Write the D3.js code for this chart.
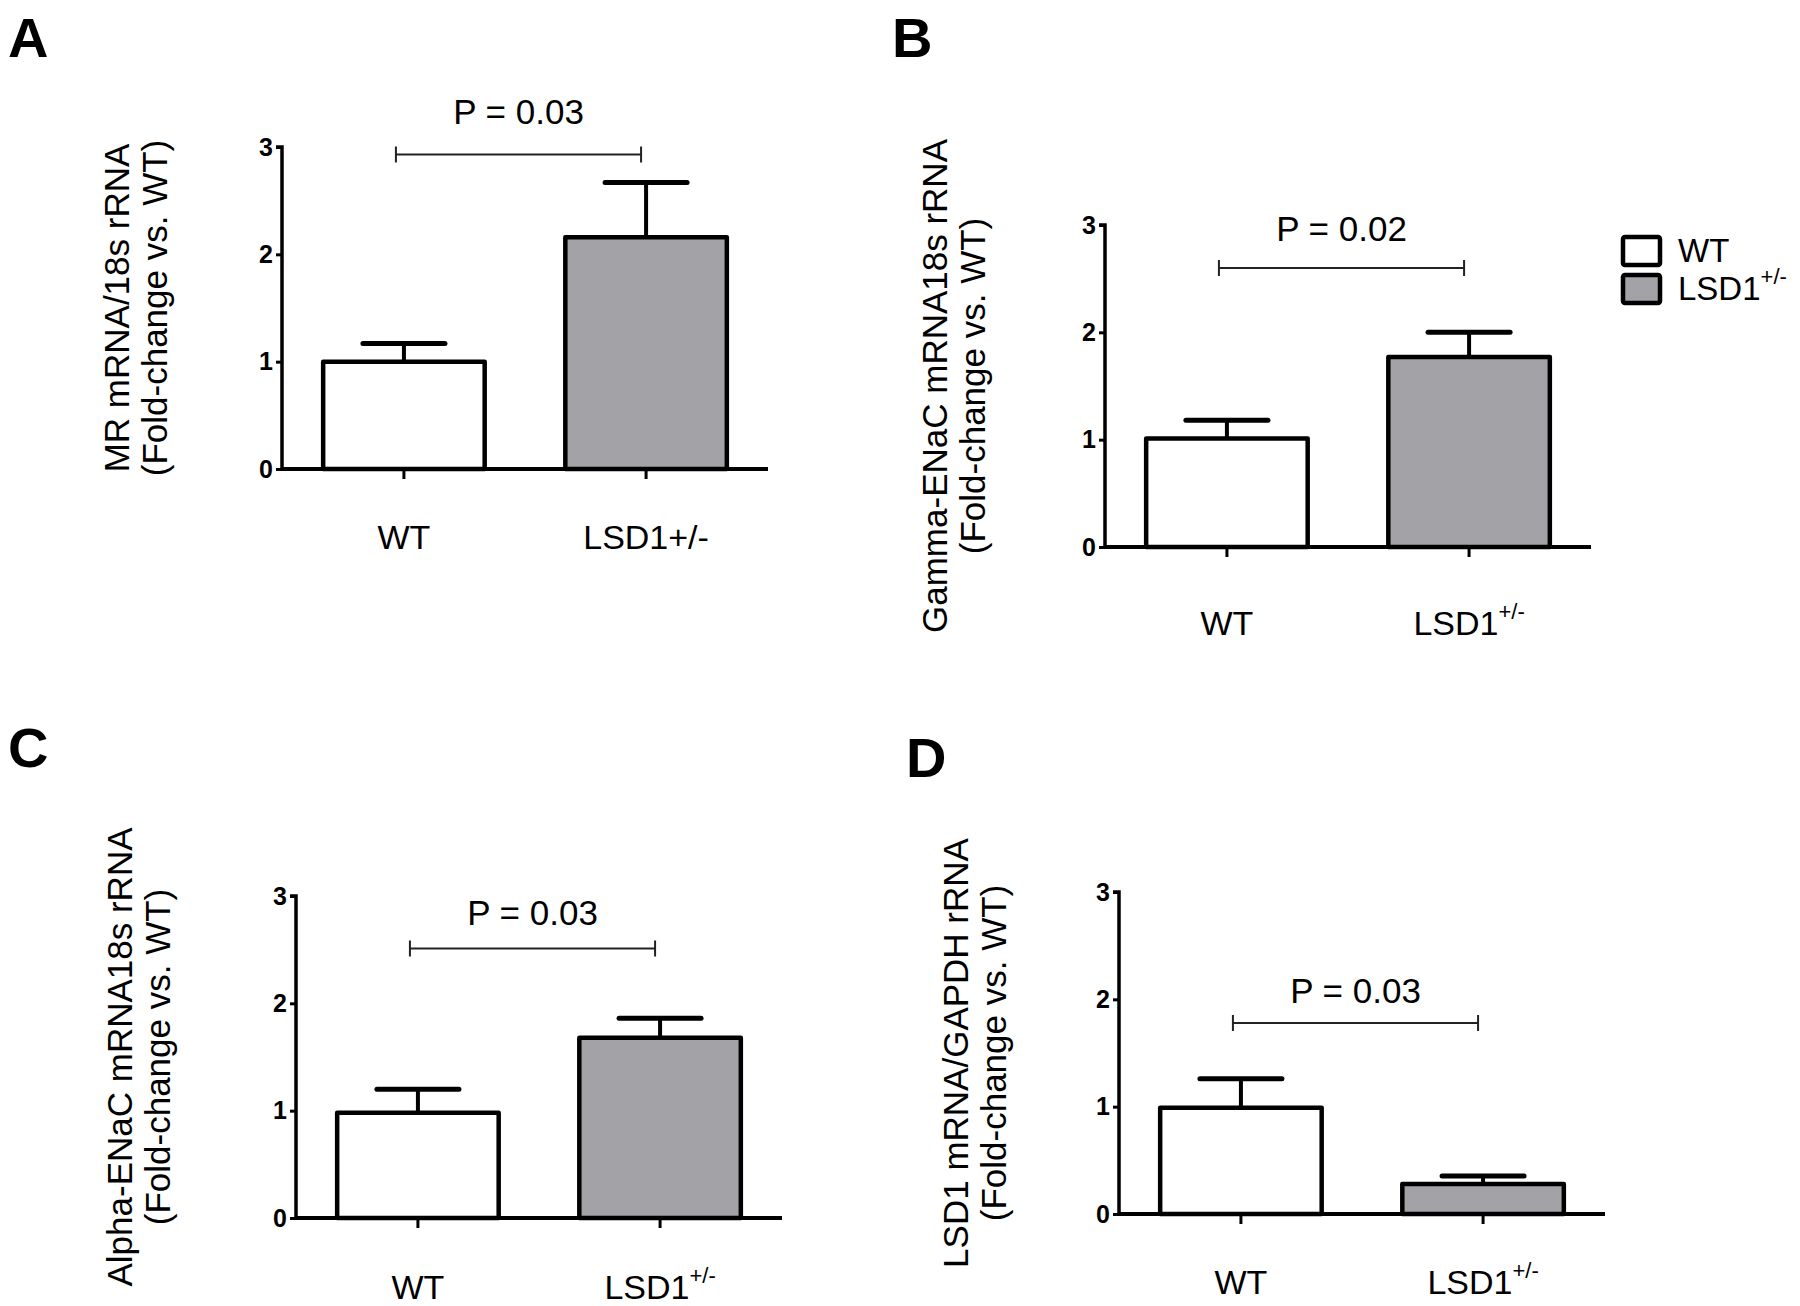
<!DOCTYPE html>
<html><head><meta charset="utf-8">
<script src="https://cdn.jsdelivr.net/npm/d3@7"></script>
<style>
html,body{margin:0;padding:0;background:#fff;}
svg{display:block;}
text{font-family:"Liberation Sans",Arial,sans-serif;fill:#000;}
</style></head>
<body>
<svg id="chart" width="1800" height="1306"></svg>
<script>
// ---- data ----
const categories = ["WT", "LSD1+/-"];
const yTicks = [0, 1, 2, 3];
const panelLetters = ["A", "B", "C", "D"];
const titlesLine1 = ["MR mRNA/18s rRNA", "Gamma-ENaC mRNA18s rRNA", "Alpha-ENaC mRNA18s rRNA", "LSD1 mRNA/GAPDH rRNA"];
const titleLine2 = "(Fold-change vs. WT)";
const meansA = [1.00, 2.16], errTopA = [1.17, 2.67];
const meansB = [1.01, 1.77], errTopB = [1.18, 2.00];
const meansC = [0.98, 1.68], errTopC = [1.20, 1.86];
const meansD = [0.99, 0.28], errTopD = [1.26, 0.355];
const bracketY = [2.93, 2.60, 2.51, 1.78];
const pLabels = ["P = 0.03", "P = 0.02", "P = 0.03", "P = 0.03"];
const superscriptLabel = [false, true, true, true];
const legendLabels = ["WT", "LSD1"];

const means = [meansA, meansB, meansC, meansD];
const errTops = [errTopA, errTopB, errTopC, errTopD];

// ---- layout ----
const layout = [
  {ox: 282, oy: 469, letter: [8, 57], titleX: 116, catDy: 80, pDy: 31},
  {ox: 1105, oy: 547, letter: [892, 57], titleX: 934, catDy: 88, pDy: 27},
  {ox: 296, oy: 1218, letter: [8, 767], titleX: 119, catDy: 81, pDy: 24},
  {ox: 1119, oy: 1214, letter: [906, 777], titleX: 955, catDy: 80, pDy: 20}
];
const W = 486, H = 322;
const fills = ["#ffffff", "#a3a2a7"];

const svg = d3.select("#chart");

layout.forEach((L, i) => {
  const g = svg.append("g");
  const x = d3.scaleBand().domain(categories).range([L.ox, L.ox + W]).paddingInner(0.333).paddingOuter(0.17);
  const y = d3.scaleLinear().domain([0, 3]).range([L.oy, L.oy - H]);

  // panel letter
  g.append("text").attr("x", L.letter[0]).attr("y", L.letter[1])
    .attr("font-size", 56).attr("font-weight", "bold").text(panelLetters[i]);

  const data = categories.map((c, j) => ({c, m: means[i][j], e: errTops[i][j], j}));
  // error bars
  g.selectAll(".estem").data(data).enter().append("line")
    .attr("x1", d => x(d.c) + x.bandwidth() / 2).attr("x2", d => x(d.c) + x.bandwidth() / 2)
    .attr("y1", d => y(d.m)).attr("y2", d => y(d.e))
    .attr("stroke", "#000").attr("stroke-width", 4);
  g.selectAll(".ecap").data(data).enter().append("line")
    .attr("x1", d => x(d.c) + x.bandwidth() / 2 - 41).attr("x2", d => x(d.c) + x.bandwidth() / 2 + 41)
    .attr("y1", d => y(d.e)).attr("y2", d => y(d.e))
    .attr("stroke", "#000").attr("stroke-width", 5).attr("stroke-linecap", "round");
  // bars
  g.selectAll(".bar").data(data).enter().append("rect")
    .attr("x", d => x(d.c)).attr("width", x.bandwidth())
    .attr("y", d => y(d.m)).attr("height", d => y(0) - y(d.m))
    .attr("fill", d => fills[d.j]).attr("stroke", "#000").attr("stroke-width", 4.5)
    .attr("stroke-linejoin", "round");

  // y axis
  const yAxis = d3.axisLeft(y).tickValues(yTicks).tickSize(6).tickPadding(3).tickFormat(d3.format("d"));
  const ya = g.append("g").attr("transform", `translate(${L.ox},0)`).call(yAxis);
  ya.select(".domain").attr("stroke", "#000").attr("stroke-width", 3.5).attr("d", `M-6,${y(3)}H0V${y(0)}`);
  ya.selectAll(".tick line").attr("stroke", "#000").attr("stroke-width", 3);
  ya.selectAll(".tick text").attr("font-size", 25).attr("font-weight", "bold")
    .attr("font-family", '"Liberation Sans Narrow","Liberation Sans",Arial,sans-serif').attr("fill", "#000");

  // x axis
  const xAxis = d3.axisBottom(x).tickSize(10).tickFormat("");
  const xa = g.append("g").attr("transform", `translate(0,${L.oy})`).call(xAxis);
  xa.select(".domain").attr("stroke", "#000").attr("stroke-width", 4).attr("d", `M${L.ox},0H${L.ox + W}`);
  xa.selectAll(".tick line").attr("stroke", "#000").attr("stroke-width", 3);

  // category labels
  categories.forEach((c, j) => {
    const t = g.append("text").attr("x", x(c) + x.bandwidth() / 2).attr("y", L.oy + L.catDy)
      .attr("text-anchor", "middle").attr("font-size", 34);
    if (j === 1 && superscriptLabel[i]) {
      t.append("tspan").text("LSD1");
      t.append("tspan").attr("dy", -16).attr("font-size", 22).text("+/-");
    } else {
      t.text(c);
    }
  });

  // y title
  const cy = (y(0) + y(3)) / 2;
  g.append("text").attr("transform", `translate(${L.titleX},${cy}) rotate(-90)`)
    .attr("text-anchor", "middle").attr("dominant-baseline", "central").attr("font-size", 35)
    .text(titlesLine1[i]);
  g.append("text").attr("transform", `translate(${L.titleX + 38},${cy}) rotate(-90)`)
    .attr("text-anchor", "middle").attr("dominant-baseline", "central").attr("font-size", 35)
    .text(titleLine2);

  // significance bracket
  const bx1 = x(categories[0]) + x.bandwidth() / 2 - 8;
  const bx2 = x(categories[1]) + x.bandwidth() / 2 - 5;
  const by = y(bracketY[i]);
  g.append("path").attr("d", `M${bx1},${by - 8}V${by + 8}M${bx1},${by}H${bx2}M${bx2},${by - 8}V${by + 8}`)
    .attr("stroke", "#222").attr("stroke-width", 2).attr("fill", "none");
  g.append("text").attr("x", (bx1 + bx2) / 2).attr("y", by - L.pDy)
    .attr("text-anchor", "middle").attr("font-size", 35).text(pLabels[i]);
});

// legend
const lg = svg.append("g");
legendLabels.forEach((lab, j) => {
  const yy = 237 + j * 38;
  lg.append("rect").attr("x", 1623).attr("y", yy).attr("width", 37).attr("height", 28)
    .attr("fill", fills[j]).attr("stroke", "#000").attr("stroke-width", 4.5).attr("rx", 2);
  const t = lg.append("text").attr("x", 1678).attr("y", yy + 25).attr("font-size", 33);
  t.append("tspan").text(lab);
  if (j === 1) t.append("tspan").attr("dy", -16).attr("font-size", 22).text("+/-");
});
</script>
</body></html>
